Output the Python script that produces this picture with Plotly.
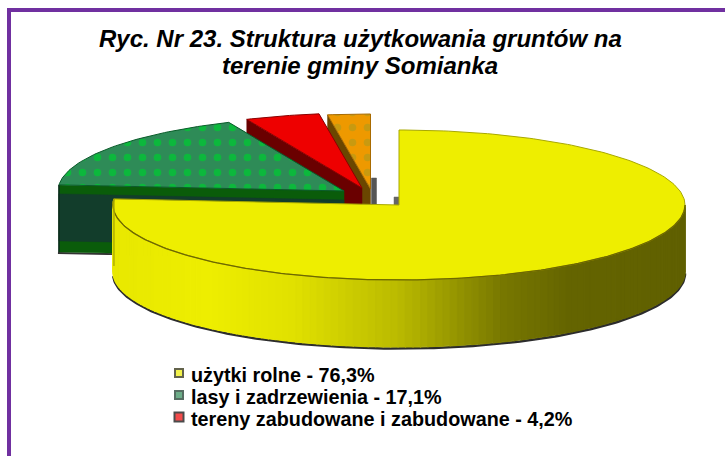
import math
import plotly.graph_objects as go

categories = ["użytki rolne", "lasy i zadrzewienia", "tereny zabudowane i zabudowane", "pozostałe"]
shares = [76.3, 17.1, 4.2, 2.4]
legend_count = 3
title_lines = ["Ryc. Nr 23. Struktura użytkowania gruntów na", "terenie gminy Somianka"]

RX, RY, DEPTH = 286, 75, 67
CENTERS = [(399, 205), (344, 191), (362, 188), (370.5, 189)]
TOP = ["#eeee00", "#2e8b57", "#ee0000", "#ee9900"]
WALL = ["#8a8a00", "#123d2b", "#6a0000", "#6a4600"]
EDGE = ["#a8a800", "#0a5c2a", "#8a0000", "#a86a00"]
SWATCH = ["#eeee00", "#2e8b57", "#ee0000"]
SWATCH_LINE = ["#222200", "#103020", "#000000"]

fracs = []
a = 0.0
tot = sum(shares)
for s in shares:
    fracs.append((a, a + s / tot * 360))
    a += s / tot * 360


def pt(c, deg, drop=0.0):
    r = math.radians(deg)
    return c[0] + RX * math.sin(r), c[1] - RY * math.cos(r) + drop


def arc(c, d0, d1, drop=0.0, step=1.0):
    n = max(2, int(abs(d1 - d0) / step) + 1)
    return [pt(c, d0 + (d1 - d0) * i / (n - 1), drop) for i in range(n)]


def poly(fig, pts, fill, line=None, width=0, pattern=None):
    xs = [p[0] for p in pts] + [pts[0][0]]
    ys = [p[1] for p in pts] + [pts[0][1]]
    kw = {}
    if pattern:
        kw["fillpattern"] = pattern
    fig.add_trace(go.Scatter(x=xs, y=ys, mode="lines", fill="toself", fillcolor=fill,
                             line=dict(color=line or fill, width=width if line else 0.5),
                             hoverinfo="skip", showlegend=False, **kw))


def stroke(fig, pts, color, width=1):
    fig.add_trace(go.Scatter(x=[p[0] for p in pts], y=[p[1] for p in pts], mode="lines",
                             line=dict(color=color, width=width), hoverinfo="skip", showlegend=False))


def lerp(stops, t):
    for (t0, c0), (t1, c1) in zip(stops, stops[1:]):
        if t <= t1:
            u = (t - t0) / (t1 - t0)
            return "rgb(%d,%d,%d)" % tuple(round(a + (b - a) * u) for a, b in zip(c0, c1))
    return "rgb(%d,%d,%d)" % stops[-1][1]


fig = go.Figure()

# orange, red: cut faces behind the green
for i in (3, 2):
    c = CENTERS[i]
    d0 = fracs[i][0]
    e = pt(c, d0)
    poly(fig, [e, c, (c[0], c[1] + DEPTH), (e[0], e[1] + DEPTH)], WALL[i])

# small shadow beside the central edge
c = CENTERS[3]
poly(fig, [(c[0] + 1, c[1] - 11), (c[0] + 6, c[1] - 11), (c[0] + 6, c[1] + 17), (c[0] + 1, c[1] + 17)], "#555555")
c = CENTERS[0]
poly(fig, [(c[0] - 5, c[1] - 8), (c[0], c[1] - 8), (c[0], c[1]), (c[0] - 5, c[1])], "#666666")

# green: outer wall with lighter bands
c = CENTERS[1]
d0, d1 = fracs[1]
e0 = pt(c, d0)
stroke(fig, [(e0[0] - 1, e0[1] + DEPTH + 1), (c[0], c[1] + DEPTH + 1)], "#333333", 2)
poly(fig, [e0, c, (c[0], c[1] + DEPTH), (e0[0], e0[1] + DEPTH)], "#0a5c0a")
poly(fig, [(e0[0], e0[1] + 9), (c[0], c[1] + 9), (c[0], c[1] + 56), (e0[0], e0[1] + 56)], WALL[1])
stroke(fig, [e0, (e0[0], e0[1] + DEPTH)], "#0a2a1c", 1.5)

# tops of small slices
for i in (3, 2, 1):
    c = CENTERS[i]
    d0, d1 = fracs[i]
    pat = None
    if i == 1:
        pat = dict(shape=".", fgcolor="#0cb83c", bgcolor=TOP[1], size=15, solidity=0.2, fillmode="replace")
    if i == 3:
        pat = dict(shape=".", fgcolor="#c89a10", bgcolor=TOP[3], size=15, solidity=0.2, fillmode="replace")
    poly(fig, [c] + arc(c, d0, d1), TOP[i], line=EDGE[i], width=1, pattern=pat)

# yellow wall: strips with shading from left to right
c = CENTERS[0]
d0, d1 = fracs[0]
stroke(fig, arc(c, 268, 90, DEPTH + 1.5), "#2c2c2c", 2.5)
stops = [(0.0, (232, 232, 0)), (0.17, (238, 238, 0)), (0.32, (224, 224, 0)), (0.5, (186, 186, 0)),
         (0.68, (120, 120, 0)), (0.8, (100, 100, 0)), (1.0, (96, 96, 0))]
deg = d1
step = 1.5
while deg > 90:
    nxt = max(90, deg - step)
    a_, b_ = pt(c, deg), pt(c, nxt)
    t = ((a_[0] + b_[0]) / 2 - (c[0] - RX)) / (2 * RX)
    col = lerp(stops, t)
    poly(fig, [a_, b_, (b_[0], b_[1] + DEPTH), (a_[0], a_[1] + DEPTH)], col, line=col, width=1.2)
    deg = nxt
poly(fig, [c] + arc(c, d0, d1), TOP[0], line=EDGE[0], width=1)
stroke(fig, arc(c, d1, 90), "#6e6800", 1.3)
tip = pt(c, d1)
stroke(fig, [tip, (tip[0], tip[1] + DEPTH)], "#b0b000", 1.5)

# legend
LEG_X, LEG_Y = [179, 179, 179], [373, 395, 417]
fig.add_trace(go.Scatter(x=LEG_X, y=LEG_Y, mode="markers", hoverinfo="skip", showlegend=False,
                         marker=dict(symbol="square", size=[8, 8, 9], color=SWATCH[:legend_count],
                                     line=dict(color=SWATCH_LINE[:legend_count], width=2))))
for i in range(legend_count):
    label = f"{categories[i]} - {shares[i]:.1f}%".replace(".", ",")
    fig.add_annotation(x=189, y=LEG_Y[i] + 2, text=f"<b>{label}</b>", showarrow=False, xanchor="left", yanchor="middle",
                       font=dict(family="Liberation Sans", size=19.8, color="#000000"))

for line, y in zip(title_lines, (38, 65)):
    fig.add_annotation(x=360, y=y, text=f"<b><i>{line}</i></b>", showarrow=False,
                       xanchor="center", yanchor="middle", align="center",
                       font=dict(family="Liberation Sans", size=24, color="#000000"))

fig.add_shape(type="rect", x0=9, y0=10, x1=760, y1=500, line=dict(color="#7030a0", width=4), fillcolor="rgba(0,0,0,0)")

fig.update_layout(width=725, height=456, margin=dict(l=0, r=0, t=0, b=0), paper_bgcolor="#ffffff",
                  plot_bgcolor="#ffffff", showlegend=False,
                  xaxis=dict(range=[0, 725], visible=False, fixedrange=True),
                  yaxis=dict(range=[456, 0], visible=False, fixedrange=True))
fig.write_html("out.html", config={"displayModeBar": False},
               post_script="document.body.style.margin='0';document.documentElement.style.overflow='hidden';")
